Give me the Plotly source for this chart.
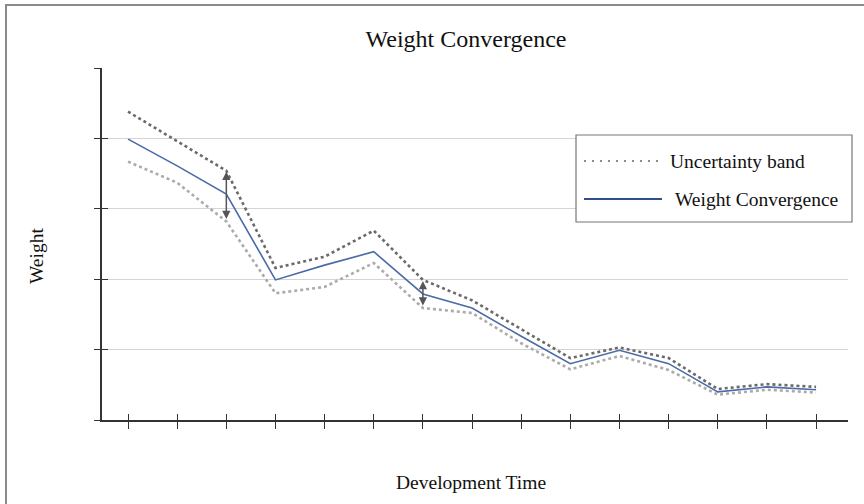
import plotly.graph_objects as go

# Development steps along the x axis
steps = list(range(15))

# Central weight estimate at each step
weight = [3.99, 3.61, 3.21, 1.99, 2.20, 2.39, 1.79, 1.59, 1.19, 0.80, 0.99, 0.80, 0.40, 0.47, 0.43]
# Upper and lower edges of the uncertainty band
upper = [4.38, 3.96, 3.54, 2.16, 2.32, 2.69, 1.99, 1.70, 1.29, 0.88, 1.03, 0.88, 0.44, 0.51, 0.47]
lower = [3.67, 3.37, 2.82, 1.80, 1.89, 2.23, 1.59, 1.52, 1.09, 0.72, 0.91, 0.71, 0.36, 0.43, 0.39]

# Steps where the band width is marked with a double arrow
marked_steps = [2, 6]

W, H = 864, 504
L, R, T, B = 102, 16, 68, 84
PW, PH = W - L - R, H - T - B
SERIF = "Liberation Serif, Times New Roman, serif"


def px(x):
    """page pixel x -> paper x"""
    return (x - L) / PW


def py(y):
    """page pixel y -> paper y"""
    return (H - B - y) / PH


fig = go.Figure()

fig.add_trace(go.Scatter(x=steps, y=upper, mode="lines", showlegend=False,
                         line=dict(color="#6a6a6a", width=2.6, dash="dot")))
fig.add_trace(go.Scatter(x=steps, y=lower, mode="lines", showlegend=False,
                         line=dict(color="#ababab", width=2.6, dash="dot")))
fig.add_trace(go.Scatter(x=steps, y=weight, mode="lines", showlegend=False,
                         line=dict(color="#4a6ba8", width=1.6)))
# companion axes that carry the inner half of the crossing tick marks
fig.add_trace(go.Scatter(x=[None], y=[None], xaxis="x2", yaxis="y2",
                         showlegend=False, hoverinfo="skip"))

x_range = [-0.53, 14.65]
y_range = [0, 5]

fig.update_layout(
    width=W, height=H,
    margin=dict(l=L, r=R, t=T, b=B),
    paper_bgcolor="white", plot_bgcolor="white",
    font=dict(family=SERIF, color="#222"),
    title=dict(text="Weight Convergence", x=466 / W, xanchor="center",
               y=1 - 39 / H, yanchor="middle", font=dict(size=24, color="#111")),
    xaxis=dict(range=x_range, tickmode="array", tickvals=steps, showticklabels=False,
               ticks="outside", ticklen=7, tickwidth=1.2, tickcolor="#333",
               showline=True, linecolor="#333", linewidth=1.5,
               showgrid=False, zeroline=False, fixedrange=True),
    yaxis=dict(range=y_range, tickmode="linear", tick0=0, dtick=1, showticklabels=False,
               ticks="outside", ticklen=6, tickwidth=1.2, tickcolor="#333",
               showline=True, linecolor="#333", linewidth=1.5,
               showgrid=True, gridcolor="#d4d4d4", gridwidth=1,
               zeroline=False, fixedrange=True),
    xaxis2=dict(range=x_range, overlaying="x", anchor="y", side="bottom",
                tickmode="array", tickvals=steps, showticklabels=False,
                ticks="inside", ticklen=6, tickwidth=1.2, tickcolor="#333",
                showline=False, showgrid=False, zeroline=False),
    yaxis2=dict(range=y_range, overlaying="y", anchor="x", side="left",
                tickmode="linear", tick0=0, dtick=1, showticklabels=False,
                ticks="inside", ticklen=6, tickwidth=1.2, tickcolor="#333",
                showline=False, showgrid=False, zeroline=False),
)

annotations = []
# double-headed arrows spanning the band at the marked steps
for s in marked_steps:
    annotations.append(dict(x=s, y=upper[s], ax=s, ay=lower[s], xref="x", yref="y",
                            axref="x", ayref="y", text="", showarrow=True,
                            arrowhead=2, arrowside="end+start", arrowsize=1.1,
                            arrowwidth=1.5, arrowcolor="#555", standoff=1, startstandoff=1))

# axis titles
annotations.append(dict(text="Development Time", x=px(471), y=py(482), xref="paper", yref="paper",
                        showarrow=False, xanchor="center", yanchor="middle",
                        font=dict(size=19.5, family=SERIF, color="#111")))
annotations.append(dict(text="Weight", x=px(36), y=py(256), xref="paper", yref="paper",
                        showarrow=False, textangle=-90, xanchor="center", yanchor="middle",
                        font=dict(size=19.5, family=SERIF, color="#111")))

# legend entries
annotations.append(dict(text="Uncertainty band", x=px(668), y=py(161), xref="paper", yref="paper",
                        showarrow=False, xanchor="left", yanchor="middle",
                        font=dict(size=19.5, family=SERIF, color="#111")))
annotations.append(dict(text="Weight Convergence", x=px(673), y=py(199), xref="paper", yref="paper",
                        showarrow=False, xanchor="left", yanchor="middle",
                        font=dict(size=19.5, family=SERIF, color="#111")))

shapes = [
    # legend frame
    dict(type="rect", xref="paper", yref="paper", x0=px(576), x1=px(852), y0=py(135), y1=py(222),
         line=dict(color="#777", width=1.2), fillcolor="white", layer="above"),
    # legend samples
    dict(type="line", xref="paper", yref="paper", x0=px(584), x1=px(664), y0=py(161), y1=py(161),
         line=dict(color="#666", width=1.6, dash="2px,6px"), layer="above"),
    dict(type="line", xref="paper", yref="paper", x0=px(584), x1=px(662), y0=py(199), y1=py(199),
         line=dict(color="#2f4e8e", width=2), layer="above"),
    # outer frame
    dict(type="rect", xref="paper", yref="paper", x0=px(6), x1=px(940), y0=py(5), y1=py(600),
         line=dict(color="#8a8a8a", width=2), fillcolor="rgba(0,0,0,0)", layer="above"),
]

fig.update_layout(annotations=annotations, shapes=shapes)

fig.write_html("out.html")
